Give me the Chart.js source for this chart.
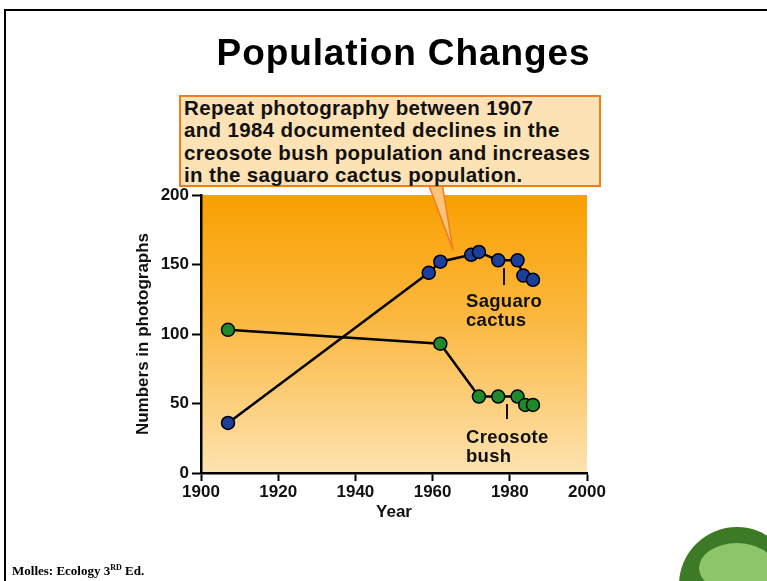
<!DOCTYPE html>
<html>
<head>
<meta charset="utf-8">
<script src="https://cdn.jsdelivr.net/npm/chart.js@4.4.1/dist/chart.umd.min.js"></script>
<style>
  html, body { margin: 0; padding: 0; background: #fff; }
  #page { position: relative; width: 767px; height: 581px; overflow: hidden; font-family: "Liberation Sans", Arial, sans-serif; }
  #frame { position: absolute; left: 4px; top: 9px; width: 800px; height: 600px; border-left: 2px solid #000; border-top: 2px solid #000; }
  #chart { position: absolute; left: 0; top: 0; }
  #title { position: absolute; left: 0; width: 807px; top: 32px; text-align: center; font-weight: bold; font-size: 37px; letter-spacing: 0.9px; color: #000; }
  #callout { position: absolute; left: 179px; top: 95px; width: 415px; height: 88px; padding-left: 3px;
    background: #fde2b5; border: 2px solid #f07d1a; font-weight: bold; font-size: 20.5px; letter-spacing: 0.35px; line-height: 22.3px; color: #111; }
  #wedge { position: absolute; left: 0; top: 0; }
  .lbl { position: absolute; font-weight: bold; font-size: 18.5px; letter-spacing: 0.3px; line-height: 19px; color: #111; }
  .lead { position: absolute; width: 2px; background: #111; }
  #footer { position: absolute; left: 12px; top: 563px; font-family: "Liberation Serif", "Times New Roman", serif; font-weight: bold; font-size: 13px; }
  #footer sup { font-size: 8px; }
  #logo { position: absolute; left: 679px; top: 527px; width: 116px; height: 116px; border-radius: 50%; background: #3d7a26; }
  #logo div { position: absolute; left: 20px; top: 16px; width: 76px; height: 50px; border-radius: 50%; background: #8cc56a; }
</style>
</head>
<body>
<div id="page">
  <div id="frame"></div>
  <canvas id="chart" width="767" height="581"></canvas>
  <div id="title">Population Changes</div>
  <svg id="wedge" width="767" height="581">
    <polygon points="428,183 442,183 453,250" fill="#fcc47a" stroke="#f07d1a" stroke-width="1.5"></polygon>
  </svg>
  <div id="callout">Repeat photography between 1907<br>and 1984 documented declines in the<br>creosote bush population and increases<br>in the saguaro cactus population.</div>
  <div class="lbl" style="left:466px; top:291px;">Saguaro<br>cactus</div>
  <div class="lead" style="left:503px; top:268px; height:17px;"></div>
  <div class="lbl" style="left:466px; top:427px;">Creosote<br>bush</div>
  <div class="lead" style="left:506px; top:404px; height:15px;"></div>
  <div id="footer">Molles: Ecology 3<sup>RD</sup> Ed.</div>
  <div id="logo"><div></div></div>
</div>
<script>
// values
var saguaroYears  = [1907, 1959, 1962, 1970, 1972, 1977, 1982, 1983.5, 1986];
var saguaroCounts = [36, 144, 152, 157, 159, 153, 153, 142, 139];
var creosoteYears  = [1907, 1962, 1972, 1977, 1982, 1984, 1986];
var creosoteCounts = [103, 93, 55, 55, 55, 49, 49];
var yearTicks = [1900, 1920, 1940, 1960, 1980, 2000];

function toPoints(xs, ys) {
    return xs.map(function (x, i) { return { x: x, y: ys[i] }; });
}

var plotBackground = {
    id: 'plotBackground',
    beforeDraw: function (chart) {
        var a = chart.chartArea;
        var ctx = chart.ctx;
        var g = ctx.createLinearGradient(0, a.top, 0, a.bottom);
        g.addColorStop(0, '#f9a000');
        g.addColorStop(0.45, '#fbb840');
        g.addColorStop(1, '#fde3b0');
        ctx.save();
        ctx.fillStyle = g;
        ctx.fillRect(a.left, a.top, a.right - a.left, a.bottom - a.top);
        ctx.restore();
    }
};

var axisFont = { family: '"Liberation Sans", Arial, sans-serif', size: 17, weight: 'bold' };

var chart = new Chart(document.getElementById('chart'), {
    type: 'scatter',
    data: {
        datasets: [{
            label: 'Saguaro cactus',
            data: toPoints(saguaroYears, saguaroCounts),
            showLine: true,
            borderColor: '#000',
            borderWidth: 2.5,
            pointBackgroundColor: '#1c3f9e',
            pointBorderColor: '#000',
            pointBorderWidth: 1.5,
            pointRadius: 6.5
        }, {
            label: 'Creosote bush',
            data: toPoints(creosoteYears, creosoteCounts),
            showLine: true,
            borderColor: '#000',
            borderWidth: 2.5,
            pointBackgroundColor: '#1f8a2c',
            pointBorderColor: '#000',
            pointBorderWidth: 1.5,
            pointRadius: 6.5
        }]
    },
    options: {
        responsive: false,
        animation: false,
        layout: { padding: { left: 133, right: 180, top: 195, bottom: 58 } },
        plugins: {
            legend: { display: false },
            tooltip: { enabled: false }
        },
        scales: {
            x: {
                type: 'linear',
                min: 1900,
                max: 2000,
                afterFit: function (s) { s.height = 50; },
                border: { display: true, color: '#000', width: 2.5 },
                grid: { drawOnChartArea: false, drawTicks: true, tickLength: 8, tickColor: '#000', tickWidth: 2 },
                ticks: {
                    stepSize: 10,
                    color: '#111',
                    font: axisFont,
                    padding: 1,
                    maxRotation: 0,
                    callback: function (v) { return yearTicks.indexOf(v) >= 0 ? String(v) : ''; }
                },
                title: { display: true, text: 'Year', color: '#111', font: axisFont, padding: { top: 0, bottom: 0 } }
            },
            y: {
                min: 0,
                max: 200,
                afterFit: function (s) { s.width = 68; },
                border: { display: true, color: '#000', width: 2.5 },
                grid: { drawOnChartArea: false, drawTicks: true, tickLength: 9, tickColor: '#000', tickWidth: 2 },
                ticks: { stepSize: 50, color: '#111', font: axisFont, padding: 3 },
                title: { display: true, text: 'Numbers in photographs', color: '#111', font: axisFont, padding: 0 }
            }
        }
    },
    plugins: [plotBackground]
});
</script>
</body>
</html>
